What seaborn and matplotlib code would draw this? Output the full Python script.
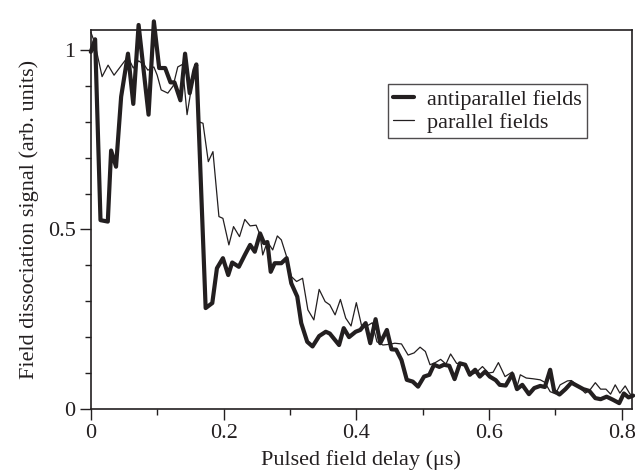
import matplotlib
matplotlib.use("Agg")
import matplotlib.pyplot as plt
import pandas as pd
import seaborn as sns
from matplotlib.ticker import FuncFormatter, MultipleLocator

# antiparallel fields (thick trace)
anti_x = [0, 0.0065, 0.0146, 0.0256, 0.0306, 0.038, 0.0457, 0.056, 0.064, 0.072,
          0.078, 0.087, 0.095, 0.103, 0.112, 0.12, 0.126, 0.135, 0.142, 0.149,
          0.156, 0.159, 0.173, 0.183, 0.19, 0.199, 0.207, 0.213, 0.223, 0.232,
          0.24, 0.247, 0.255, 0.261, 0.266, 0.271, 0.277, 0.287, 0.295, 0.302,
          0.311, 0.317, 0.326, 0.334, 0.344, 0.354, 0.36, 0.374, 0.381, 0.389,
          0.399, 0.406, 0.414, 0.421, 0.429, 0.436, 0.446, 0.453, 0.46, 0.468,
          0.476, 0.485, 0.493, 0.502, 0.51, 0.517, 0.525, 0.532, 0.54, 0.548,
          0.556, 0.564, 0.571, 0.579, 0.586, 0.594, 0.601, 0.61, 0.616, 0.625,
          0.635, 0.642, 0.65, 0.66, 0.668, 0.677, 0.684, 0.692, 0.698, 0.706,
          0.715, 0.724, 0.733, 0.742, 0.751, 0.76, 0.768, 0.777, 0.787, 0.796,
          0.803, 0.81, 0.817]
anti_y = [0.995, 1.03, 0.526, 0.522, 0.72, 0.675, 0.87, 0.99, 0.85, 1.07,
          0.97, 0.82, 1.08, 0.95, 0.95, 0.91, 0.91, 0.86, 0.99, 0.88,
          0.944, 0.96, 0.281, 0.295, 0.392, 0.42, 0.373, 0.408, 0.396, 0.429,
          0.457, 0.438, 0.489, 0.462, 0.465, 0.382, 0.406, 0.406, 0.42, 0.35,
          0.313, 0.239, 0.187, 0.174, 0.203, 0.215, 0.21, 0.178, 0.225, 0.2,
          0.215, 0.22, 0.239, 0.183, 0.25, 0.183, 0.22, 0.166, 0.165, 0.136,
          0.081, 0.076, 0.062, 0.09, 0.095, 0.123, 0.117, 0.123, 0.12, 0.083,
          0.127, 0.123, 0.095, 0.109, 0.09, 0.104, 0.09, 0.08, 0.067, 0.065,
          0.097, 0.055, 0.067, 0.041, 0.058, 0.064, 0.061, 0.109, 0.05, 0.04,
          0.055, 0.073, 0.064, 0.055, 0.05, 0.03, 0.027, 0.034, 0.025, 0.016,
          0.043, 0.032, 0.037]

# parallel fields (thin trace)
par_x = [0, 0.006, 0.017, 0.026, 0.035, 0.05, 0.056, 0.064, 0.072, 0.08,
         0.086, 0.095, 0.1, 0.106, 0.116, 0.124, 0.131, 0.138, 0.145, 0.152,
         0.158, 0.163, 0.169, 0.177, 0.184, 0.193, 0.199, 0.208, 0.215, 0.224,
         0.232, 0.24, 0.249, 0.255, 0.259, 0.266, 0.274, 0.281, 0.287, 0.295,
         0.302, 0.31, 0.319, 0.327, 0.336, 0.344, 0.353, 0.36, 0.368, 0.376,
         0.384, 0.392, 0.4, 0.408, 0.416, 0.424, 0.431, 0.44, 0.45, 0.458,
         0.468, 0.478, 0.487, 0.496, 0.504, 0.511, 0.519, 0.527, 0.535, 0.542,
         0.551, 0.558, 0.566, 0.573, 0.581, 0.59, 0.599, 0.606, 0.614, 0.624,
         0.635, 0.641, 0.647, 0.656, 0.666, 0.677, 0.684, 0.692, 0.7, 0.707,
         0.718, 0.724, 0.735, 0.745, 0.752, 0.76, 0.768, 0.776, 0.783, 0.79,
         0.797, 0.805, 0.812, 0.817]
par_y = [1.05, 1.02, 0.926, 0.958, 0.93, 0.967, 0.98, 0.95, 0.97, 0.96,
         0.944, 0.953, 0.93, 0.889, 0.88, 0.9, 0.953, 0.96, 0.82, 0.9,
         0.95, 0.80, 0.796, 0.689, 0.717, 0.536, 0.531, 0.457, 0.508, 0.48,
         0.528, 0.51, 0.512, 0.485, 0.429, 0.466, 0.443, 0.482, 0.471, 0.424,
         0.369, 0.355, 0.364, 0.276, 0.248, 0.333, 0.299, 0.29, 0.262, 0.305,
         0.253, 0.231, 0.296, 0.231, 0.231, 0.24, 0.187, 0.178, 0.18, 0.183,
         0.181, 0.15, 0.156, 0.172, 0.16, 0.123, 0.129, 0.138, 0.125, 0.153,
         0.127, 0.125, 0.118, 0.095, 0.102, 0.118, 0.1, 0.102, 0.129, 0.09,
         0.103, 0.055, 0.095, 0.086, 0.084, 0.081, 0.074, 0.048, 0.042, 0.067,
         0.078, 0.079, 0.062, 0.044, 0.053, 0.073, 0.055, 0.055, 0.041, 0.067,
         0.044, 0.064, 0.042, 0.037]

sns.set_style("ticks")
plt.rcParams["font.family"] = ["Liberation Serif", "DejaVu Serif"]

ink = "#231f20"

fig = plt.figure(figsize=(6.35, 4.76), dpi=100)
ax = fig.add_axes([0.143, 0.141, 0.852, 0.796])

anti = pd.DataFrame({"delay": anti_x, "signal": anti_y})
par = pd.DataFrame({"delay": par_x, "signal": par_y})

sns.lineplot(data=anti, x="delay", y="signal", ax=ax, color=ink, lw=3.0,
             label="antiparallel fields", clip_on=False, zorder=3)
sns.lineplot(data=par, x="delay", y="signal", ax=ax, color=ink, lw=0.9,
             label="parallel fields", clip_on=False, zorder=3)

ax.set_xlim(0, 0.815)
ax.set_ylim(0, 1.056)
ax.xaxis.set_major_locator(MultipleLocator(0.2))
ax.xaxis.set_minor_locator(MultipleLocator(0.1))
ax.yaxis.set_major_locator(MultipleLocator(0.5))
ax.yaxis.set_minor_locator(MultipleLocator(0.1))
fmt = FuncFormatter(lambda v, _: f"{v:g}")
ax.xaxis.set_major_formatter(fmt)
ax.yaxis.set_major_formatter(fmt)
ax.tick_params(which="major", direction="out", length=8, width=1, colors=ink,
               labelsize=16, pad=3)
ax.tick_params(which="minor", direction="out", length=4.2, width=1, colors=ink)
for s in ax.spines.values():
    s.set_color(ink)
    s.set_linewidth(1.2)

ax.set_xlabel("Pulsed field delay (μs)", fontsize=16, color=ink, labelpad=5)
ax.set_ylabel("Field dissociation signal (arb. units)", fontsize=16,
              color=ink, labelpad=6)

leg = ax.legend(loc="upper left", bbox_to_anchor=(0.549, 0.8575), fontsize=16,
                frameon=True, fancybox=False, handlelength=0.95,
                handletextpad=0.55, borderpad=0.25, labelspacing=0.1,
                borderaxespad=0)
leg.get_frame().set_edgecolor(ink)
leg.get_frame().set_linewidth(1.0)
for t in leg.get_texts():
    t.set_color(ink)

fig.savefig("out.png", dpi=100)
